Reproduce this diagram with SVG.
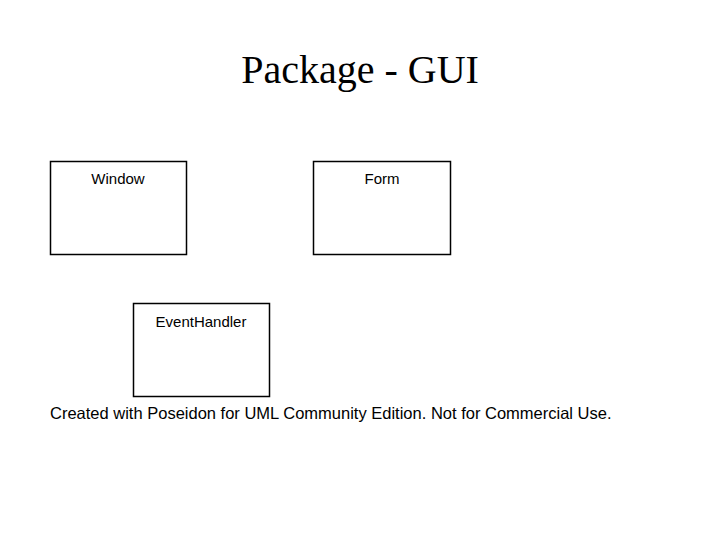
<svg xmlns="http://www.w3.org/2000/svg" width="720" height="540" viewBox="0 0 720 540">
<style>
.box{fill:#fff;stroke:#000;stroke-width:1.5}
.lbl{font-family:"Liberation Sans",Arial,sans-serif;font-size:15px;text-anchor:middle;fill:#000}
</style>
<rect width="720" height="540" fill="#fff"/>
<text x="360" y="83" font-family="Liberation Serif,serif" font-size="40" text-anchor="middle">Package - GUI</text>
<g id="connectors"/>
<g id="window"><rect class="box" x="50.5" y="161.5" width="136" height="93"/><text class="lbl" x="118" y="184">Window</text></g>
<g id="form"><rect class="box" x="313.5" y="161.5" width="137" height="93"/><text class="lbl" x="382" y="184">Form</text></g>
<g id="eventhandler"><rect class="box" x="133.5" y="303.5" width="136" height="93"/><text class="lbl" x="201" y="327">EventHandler</text></g>
<text x="50" y="419" font-family="Liberation Sans,Arial,sans-serif" font-size="16.5" fill="#000">Created with Poseidon for UML Community Edition. Not for Commercial Use.</text>
</svg>
